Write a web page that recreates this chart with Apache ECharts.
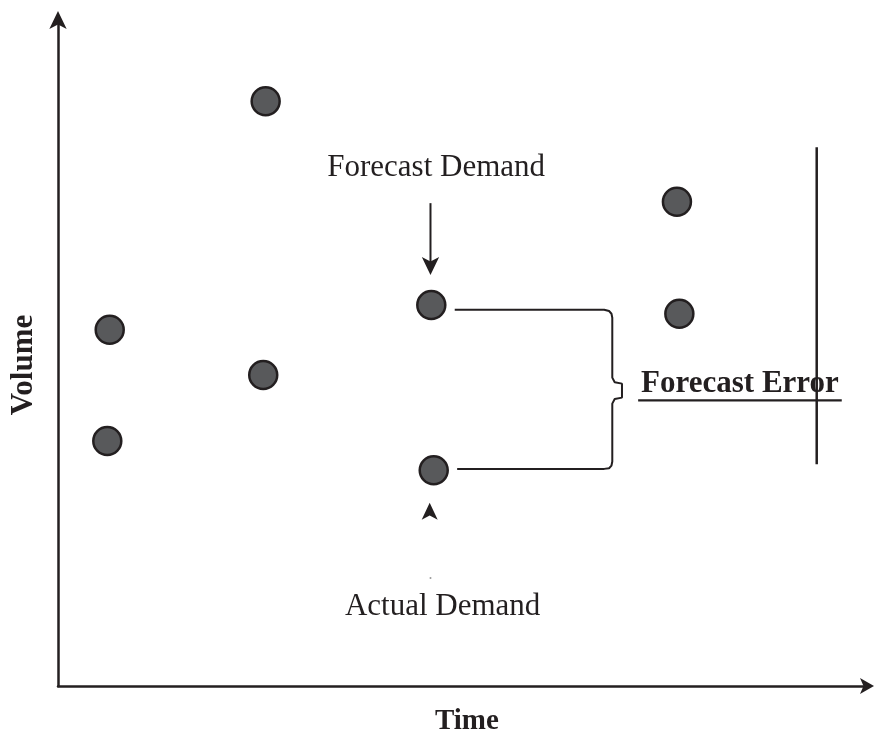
<!DOCTYPE html>
<html>
<head>
<meta charset="utf-8">
<script src="https://cdn.jsdelivr.net/npm/echarts@6/dist/echarts.min.js"></script>
<style>html,body{margin:0;padding:0;background:#fff}#c{width:874px;height:738px}</style>
</head>
<body>
<div id="c"></div>
<script>
// Data points (time, volume) in arbitrary units 0..100
const pointX = [25.7, 6.4, 6.1, 25.4, 46.2, 46.5, 76.6, 76.9];
const pointY = [87.8, 53.5, 36.8, 46.7, 57.2, 32.4, 72.7, 55.9];

// Brace linking forecast and actual demand
const braceX = [49.1, 67.6, 68.2, 68.5, 68.6, 68.6, 68.9, 69.8, 69.8, 68.9, 68.6, 68.6, 68.5, 68.2, 67.6, 49.4];
const braceY = [56.5, 56.5, 56.3, 55.9, 55.3, 46.3, 45.6, 45.4, 43.3, 43.1, 42.4, 33.7, 33.1, 32.7, 32.6, 32.6];

// Vertical reference line and underline of "Forecast Error"
const errLineX = [93.9, 93.9];
const errLineY = [80.9, 33.3];
const underlineX = [71.8, 97.0];
const underlineY = [42.9, 42.9];

// Forecast arrow (shaft + head tip) and actual-demand arrow head tip, speck
const fArrowX = [46.1, 46.1];
const fArrowY = [72.5, 63.5];
const fHead = [46.1, 61.7];
const aHead = [46.0, 27.5];
const speck = [46.1, 16.2];

// Text annotations
const labelTexts = ['Forecast Demand', 'Actual Demand', 'Forecast Error', 'Volume', 'Time'];
const labelX = [46.8, 47.6, 84.4, -4.2, 50.6];
const labelY = [77.8, 11.9, 45.3, 48.2, -5.4];

const ink = '#231f20';
const serif = '"Liberation Serif", "Times New Roman", serif';

const chart = echarts.init(document.getElementById('c'), null, {renderer: 'canvas'});
const zip = (a, b) => a.map((v, i) => [v, b[i]]);
const lineSeries = (xs, ys, w) => ({
  type: 'line', data: zip(xs, ys), symbol: 'none', silent: true, clip: false,
  lineStyle: {color: ink, width: w}, z: 3, animation: false
});

const labelStyles = [
  {fontSize: 31, fontWeight: 'normal'},
  {fontSize: 31, fontWeight: 'normal'},
  {fontSize: 31, fontWeight: 'bold'},
  {fontSize: 31, fontWeight: 'bold', rotate: 90},
  {fontSize: 29, fontWeight: 'bold'}
];

chart.setOption({
  animation: false,
  grid: {left: 58, right: 8, top: 20, bottom: 52},
  xAxis: {
    type: 'value', min: 0, max: 100,
    axisLine: {show: true, onZero: false, lineStyle: {color: ink, width: 2.5}, symbol: ['none', 'arrow'], symbolSize: [12, 14], symbolOffset: [0, 8]},
    axisTick: {show: false}, axisLabel: {show: false}, splitLine: {show: false}
  },
  yAxis: {
    type: 'value', min: 0, max: 100,
    axisLine: {show: true, onZero: false, lineStyle: {color: ink, width: 2.5}, symbol: ['none', 'arrow'], symbolSize: [13, 18], symbolOffset: [0, 9]},
    axisTick: {show: false}, axisLabel: {show: false}, splitLine: {show: false}
  },
  series: [
    lineSeries(braceX, braceY, 2),
    lineSeries(errLineX, errLineY, 2.5),
    lineSeries(underlineX, underlineY, 2.2),
    lineSeries(fArrowX, fArrowY, 2),
    {
      type: 'scatter', silent: true, clip: false, z: 4,
      data: [
        {value: fHead, symbol: 'arrow', symbolSize: [13, 18], symbolRotate: 180},
        {value: aHead, symbol: 'arrow', symbolSize: [12, 17]},
        {value: speck, symbol: 'circle', symbolSize: 2, itemStyle: {color: '#999'}}
      ],
      itemStyle: {color: ink, opacity: 1}
    },
    {
      type: 'scatter', silent: true, clip: false, z: 5,
      data: zip(pointX, pointY),
      symbol: 'circle', symbolSize: 28,
      itemStyle: {color: '#58595b', borderColor: ink, borderWidth: 2.5, opacity: 1}
    },
    {
      type: 'scatter', silent: true, clip: false, z: 6,
      symbolSize: 1,
      itemStyle: {color: 'rgba(0,0,0,0)', opacity: 1},
      data: labelTexts.map((t, i) => ({
        name: t,
        value: [labelX[i], labelY[i]],
        label: Object.assign({
          show: true, position: 'inside', formatter: t,
          color: ink, fontFamily: serif, align: 'center', verticalAlign: 'middle'
        }, labelStyles[i])
      }))
    }
  ]
});
</script>
</body>
</html>
